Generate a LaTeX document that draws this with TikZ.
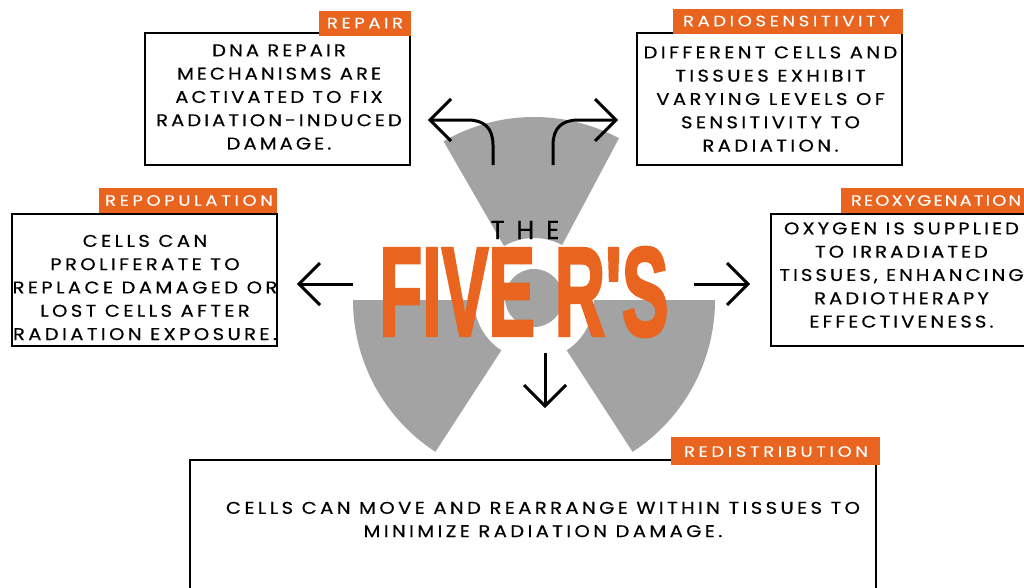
\documentclass[tikz,border=0pt]{standalone}
\usepackage{fontspec}
\setmainfont{Poppins}
\newfontfamily\bodyfont[LetterSpace=20,FakeStretch=1.15,FakeBold=0.4]{Poppins}
\newfontfamily\bodyfontb[LetterSpace=18,FakeStretch=1.15,FakeBold=0.4]{Poppins}
\newfontfamily\tagfont[LetterSpace=24,FakeStretch=1.2,FakeBold=0.2]{Poppins}
\newfontfamily\tagfontb[LetterSpace=14,FakeStretch=1.2,FakeBold=0.2]{Poppins}
\newfontfamily\thefont[LetterSpace=45,FakeBold=0.5]{Poppins}
\newfontfamily\bigfont[FakeBold=2.8]{Liberation Sans Bold}
\definecolor{orng}{HTML}{E8641F}
\definecolor{gry}{HTML}{A3A3A3}
\tikzset{
  x=1pt,y=-1pt,
  sector/.style={fill=gry,draw=none},
  boxframe/.style={draw=black,line width=2pt,fill=white,rectangle,inner sep=0pt},
  tagbox/.style={fill=orng,inner sep=0pt,rectangle},
  tagtext/.style={text=white,inner sep=0pt,anchor=center,font=\tagfont\fontsize{15}{16}\selectfont},
  tagtextb/.style={tagtext,font=\tagfontb\fontsize{15}{16}\selectfont},
  bodytext/.style={text=black,inner sep=0pt,align=center,anchor=center,font=\bodyfont\fontsize{17}{23.3}\selectfont},
  bodytextb/.style={bodytext,font=\bodyfontb\fontsize{17}{23.3}\selectfont},
  arrowline/.style={draw=black,line width=3pt},
  barb/.style={draw=black,line width=3pt,miter limit=10},
}
\begin{document}
\begin{tikzpicture}
\path[use as bounding box] (0,0) rectangle (1024,587);
\clip (0,0) rectangle (1024,587);
\fill[white] (0,0) rectangle (1024,587);
% trefoil
\begin{scope}[shift={(534,298)},x=1pt,y=1pt]
  \fill[sector] (62:60) -- (62:181) arc[start angle=62,end angle=120,radius=181] -- (120:60) arc[start angle=120,end angle=62,radius=60] -- cycle;
  \fill[sector] (0,0) circle[radius=29];
\end{scope}
\begin{scope}[shift={(534,300)},x=1pt,y=1pt]
  \fill[sector] (180:60) -- (180:181) arc[start angle=180,end angle=237,radius=181] -- (237:60) arc[start angle=237,end angle=180,radius=60] -- cycle;
  \fill[sector] (303:60) -- (303:181) arc[start angle=303,end angle=360,radius=181] -- (360:60) arc[start angle=360,end angle=303,radius=60] -- cycle;
\end{scope}
% boxes
\node[boxframe,minimum width=265pt,minimum height=132pt] (repairbox) at (277.5,99) {};
\node[boxframe,minimum width=265pt,minimum height=132pt] (radiobox) at (769.5,99) {};
\node[boxframe,minimum width=265pt,minimum height=132pt] (repopbox) at (144.5,280) {};
\node[boxframe,minimum width=265pt,minimum height=132pt] (reoxybox) at (903.5,280) {};
\node[boxframe,minimum width=686pt,minimum height=140pt] (redisbox) at (533,530) {};
% tags
\node[tagbox,minimum width=92pt,minimum height=25pt] (repairtag) at (365,23) {};
\node[tagbox,minimum width=230pt,minimum height=25pt] (radiotag) at (788,21) {};
\node[tagbox,minimum width=178pt,minimum height=25pt] (repoptag) at (188,200.5) {};
\node[tagbox,minimum width=190pt,minimum height=25pt] (reoxytag) at (936,200.5) {};
\node[tagbox,minimum width=209pt,minimum height=28pt] (redistag) at (775.5,451) {};
\node[tagtext] (repairlab) at (365,23) {REPAIR};
\node[tagtext] (radiolab) at (786.5,21) {RADIOSENSITIVITY};
\node[tagtext] (repoplab) at (189,200.5) {REPOPULATION};
\node[tagtextb] (reoxylab) at (936,200.5) {REOXYGENATION};
\node[tagtext] (redislab) at (776,451.5) {REDISTRIBUTION};
% body text
\node[bodytextb] (repairtxt) at (279,97) {DNA REPAIR\\MECHANISMS ARE\\ACTIVATED TO FIX\\RADIATION-INDUCED\\DAMAGE.};
\node[bodytext] (radiotxt) at (770.5,99) {DIFFERENT CELLS AND\\TISSUES EXHIBIT\\VARYING LEVELS OF\\SENSITIVITY TO\\RADIATION.};
\node[bodytext] (repoptxt) at (145,287.5) {CELLS CAN\\PROLIFERATE TO\\REPLACE DAMAGED OR\\LOST CELLS AFTER\\RADIATION EXPOSURE.};
\node[bodytextb] (reoxytxt) at (901.5,275) {OXYGEN IS SUPPLIED\\TO IRRADIATED\\TISSUES, ENHANCING\\RADIOTHERAPY\\EFFECTIVENESS.};
\node[bodytext] (redistxt) at (543,519.5) {CELLS CAN MOVE AND REARRANGE WITHIN TISSUES TO\\MINIMIZE RADIATION DAMAGE.};
% title
\node[inner sep=0pt,text=black,text height=18pt,text depth=0pt,font=\thefont\fontsize{26}{28}\selectfont] (thetxt) at (525,230) {THE};
\node[inner sep=0pt,text=orng,anchor=center] (fivetxt) at (524,292) {\resizebox{289pt}{88pt}{\bigfont FIVE R'S}};
% arrows
\coordinate (a1s) at (493,165); \coordinate (a1e) at (430,120);
\coordinate (a2s) at (553,165); \coordinate (a2e) at (616,120);
\coordinate (a3s) at (353,284); \coordinate (a3e) at (299,284);
\coordinate (a4s) at (694,284); \coordinate (a4e) at (748,284);
\coordinate (a5s) at (545,353); \coordinate (a5e) at (545,406);
\draw[arrowline] (a1s) -- (493,145) .. controls (493,128) and (484,120) .. (468,120) -- (a1e);
\draw[barb] ([shift={(21,-21)}]a1e) -- (a1e) -- ([shift={(21,21)}]a1e);
\draw[arrowline] (a2s) -- (553,145) .. controls (553,128) and (562,120) .. (578,120) -- (a2e);
\draw[barb] ([shift={(-21,-21)}]a2e) -- (a2e) -- ([shift={(-21,21)}]a2e);
\draw[arrowline] (a3s) -- (a3e);
\draw[barb] ([shift={(21,-21)}]a3e) -- (a3e) -- ([shift={(21,21)}]a3e);
\draw[arrowline] (a4s) -- (a4e);
\draw[barb] ([shift={(-21,-21)}]a4e) -- (a4e) -- ([shift={(-21,21)}]a4e);
\draw[arrowline] (a5s) -- (a5e);
\draw[barb] ([shift={(-21,-21)}]a5e) -- (a5e) -- ([shift={(21,-21)}]a5e);
\end{tikzpicture}
\end{document}
